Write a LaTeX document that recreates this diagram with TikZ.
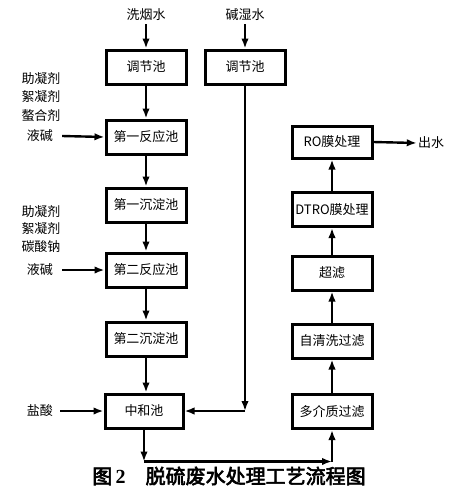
\documentclass[tikz,border=0pt]{standalone}
\usepackage{fontspec}
\setmainfont{Noto Sans CJK SC}
\newfontfamily\capfont{Noto Sans CJK SC}[FakeBold=3]
\newfontfamily\numfont{Liberation Serif}
\usetikzlibrary{arrows.meta}

\begin{document}
\begin{tikzpicture}[x=1pt,y=-1pt,
        box/.style={draw,line width=3pt,minimum width=80pt,minimum height=34pt,inner sep=0pt,font=\fontsize{13}{15}\selectfont},
        arr/.style={line width=2.4pt,-{Latex[length=10pt,width=7.5pt]}},
        lbl/.style={inner sep=1pt,font=\fontsize{13}{15}\selectfont,align=center}]
        \useasboundingbox (0,0) rectangle (463,491);
        %\draw[step=20,gray!30] (0,0) grid (463,491);

        % linke Linie
        \node[lbl] (xyw) at (146,15) {洗烟水};
        \node[box] (tj1) at (146,67) {调节池};
        \node[box] (fy1) at (146,137) {第一反应池};
        \node[box] (cd1) at (146,205) {第一沉淀池};
        \node[box] (fy2) at (146,270) {第二反应池};
        \node[box] (cd2) at (146,339) {第二沉淀池};
        \node[box,minimum width=78pt] (zh) at (144,411) {中和池};

        \draw[arr] ([yshift=-2pt]xyw.south) -- (tj1.north);
        \draw[arr] (tj1) -- (fy1);
        \draw[arr] (fy1) -- (cd1);
        \draw[arr] (cd1) -- (fy2);
        \draw[arr] (fy2) -- (cd2);
        \draw[arr] (cd2.south) -- (cd2.south |- zh.north);

        % Dosierung
        \node[lbl,font=\fontsize{13}{18.5}\selectfont] (dos1) at (41,97) {助凝剂\\絮凝剂\\螯合剂};
        \node[lbl] (yj1) at (40,136) {液碱};
        \node[lbl,font=\fontsize{13}{17.5}\selectfont] (dos2) at (41,229) {助凝剂\\絮凝剂\\碳酸钠};
        \node[lbl] (yj2) at (40,270) {液碱};
        \node[lbl] (ys) at (40,411) {盐酸};
        \draw[arr] ([xshift=8pt]yj1.east) -- (fy1.west);
        \draw[arr] ([xshift=8pt]yj2.east) -- (fy2.west);
        \draw[arr] ([xshift=6pt]ys.east) -- (zh.west);

        % Nassentschwefelung
        \node[lbl] (jsw) at (245,15) {碱湿水};
        \node[box] (tj2) at (245,67) {调节池};
        \draw[arr] ([yshift=-2pt]jsw.south) -- (tj2.north);
        \coordinate (k1) at (tj2.south |- zh.east);
        \draw[arr] (tj2.south) -- (k1);
        \draw[arr] (k1) -- (zh.east);

        % rechte Linie
        \node[box,minimum height=32pt] (ro) at (332,142) {RO膜处理};
        \node[box] (dtro) at (332,209.5) {DTRO膜处理};
        \node[box] (cl) at (332,273) {超滤};
        \node[box] (zq) at (332,341) {自清洗过滤};
        \node[box] (dj) at (332,411.5) {多介质过滤};
        \node[lbl] (cs) at (431,143) {出水};

        \coordinate (k2) at ([yshift=-32pt]zh.south);
        \coordinate (k3) at (dj.south |- k2);
        \draw[arr] (zh.south) -- (k2);
        \draw[arr] (k2) -- (k3);
        \draw[arr] (k3) -- (dj.south);
        \draw[arr] (dj) -- (zq);
        \draw[arr] (zq) -- (cl);
        \draw[arr] (cl) -- (dtro);
        \draw[arr] (dtro) -- (ro);
        \draw[arr] (ro.east) -- (cs.west);

        \node[font=\fontsize{20}{22}\capfont] (cap) at (229,476) {图\,{\numfont\bfseries 2}\quad 脱硫废水处理工艺流程图};
\end{tikzpicture}
\end{document}
